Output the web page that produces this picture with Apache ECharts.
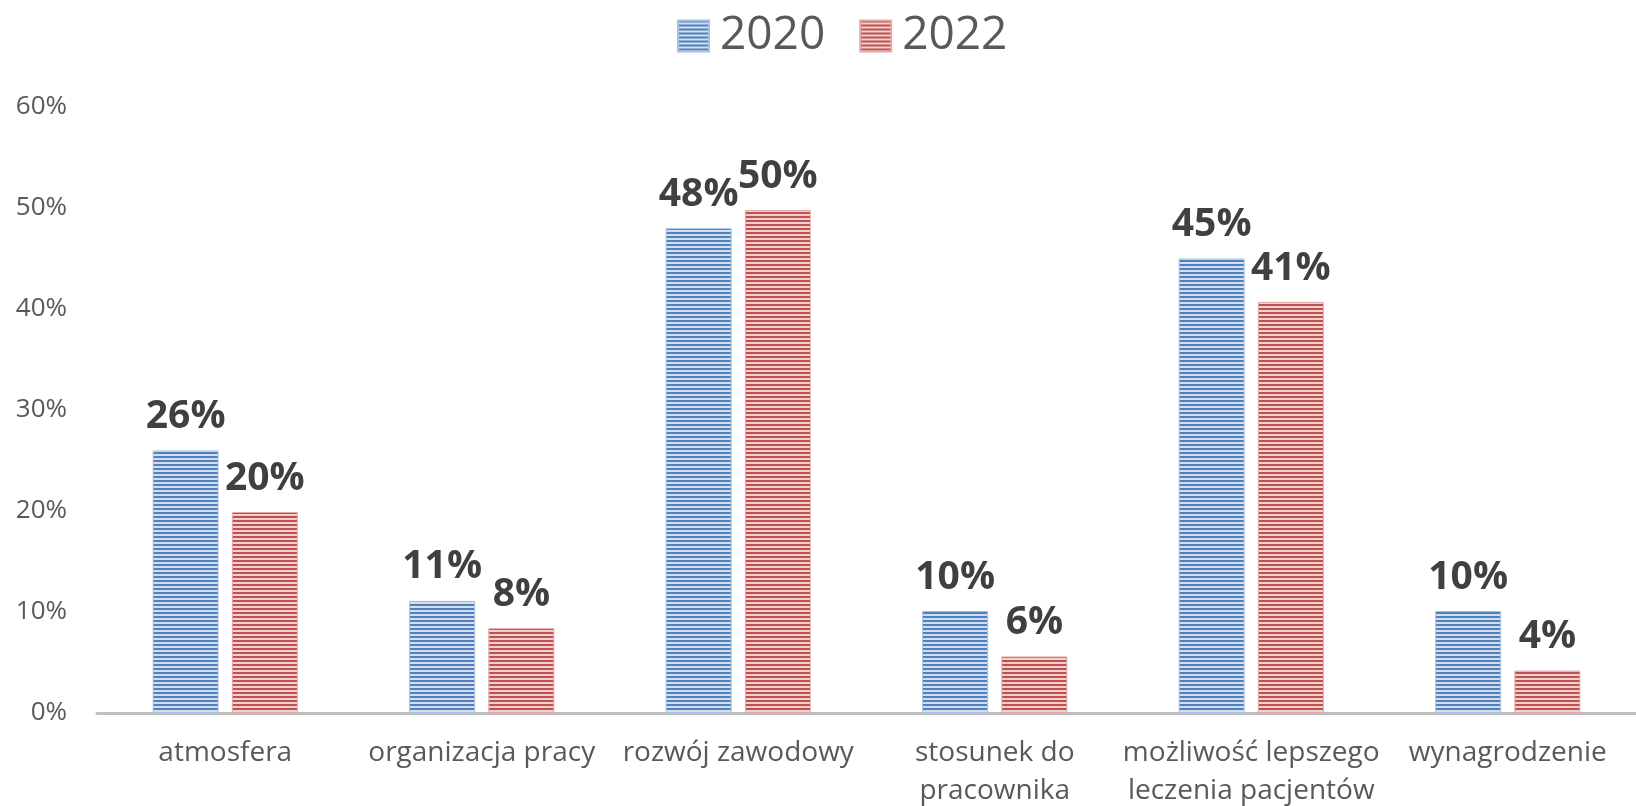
<!DOCTYPE html>
<html>
<head>
<meta charset="utf-8">
<script src="https://cdn.jsdelivr.net/npm/echarts@6/dist/echarts.min.js"></script>
<style>
  html, body { margin: 0; padding: 0; background: #fff; }
  #chart { width: 1636px; height: 806px; }
</style>
</head>
<body>
<div id="chart"></div>
<script>
  const categories = ['atmosfera', 'organizacja pracy', 'rozwój zawodowy', 'stosunek do\npracownika', 'możliwość lepszego\nleczenia pacjentów', 'wynagrodzenie']
  const seriesNames = ['2020', '2022']
  const values2020 = [26, 11.1, 48, 10.1, 45, 10.1]
  const values2022 = [19.9, 8.4, 49.8, 5.6, 40.7, 4.2]

  // striped fill like the original
  function stripes (dark, light) {
    let c = document.createElement('canvas')
    c.width = 4
    c.height = 4
    let ctx = c.getContext('2d')
    ctx.fillStyle = light
    ctx.fillRect(0, 0, 4, 4)
    ctx.fillStyle = dark
    ctx.fillRect(0, 0, 4, 2)
    return { image: c, repeat: 'repeat' }
  }
  const fills = [stripes('#4f81bd', '#d3dff0'), stripes('#c0504d', '#f0d0cf')]
  const borders = ['#a9c1e3', '#e2a9a7']

  let myChart = echarts.init(document.getElementById('chart'))
  let series = [values2020, values2022].map((data, i) => ({
    name: seriesNames[i],
    type: 'bar',
    barWidth: 66,
    barGap: '20%',
    itemStyle: { color: fills[i], borderColor: borders[i], borderWidth: 1 },
    label: {
      show: true,
      position: 'top',
      distance: 14,
      fontSize: 39,
      fontWeight: 'bold',
      fontFamily: 'Open Sans',
      color: '#404040',
      formatter: p => Math.round(p.value) + '%'
    },
    data: data
  }))

  let option = {
    animation: false,
    legend: {
      data: seriesNames.map((n, i) => ({ name: n, itemStyle: { color: fills[i] } })),
      top: 8,
      left: 672,
      itemWidth: 31,
      itemHeight: 31,
      itemGap: 34,
      icon: 'rect',
      textStyle: { fontSize: 46, color: '#595959', fontFamily: 'Open Sans', padding: [0, 0, 0, 6] }
    },
    grid: { left: 97, right: 0, top: 107, bottom: 93, containLabel: false, outerBoundsMode: 'none' },
    xAxis: {
      type: 'category',
      data: categories,
      axisLine: { lineStyle: { color: '#bfbfbf', width: 3 } },
      axisTick: { show: false },
      axisLabel: { fontSize: 28, color: '#595959', fontFamily: 'Open Sans', margin: 21, lineHeight: 38, interval: 0 }
    },
    yAxis: {
      type: 'value',
      min: 0,
      max: 60,
      interval: 10,
      splitLine: { show: false },
      axisLine: { show: false },
      axisLabel: { fontSize: 26, color: '#595959', fontFamily: 'Open Sans', margin: 30, formatter: '{value}%' }
    },
    series: series
  }
  myChart.setOption(option)
</script>
</body>
</html>
